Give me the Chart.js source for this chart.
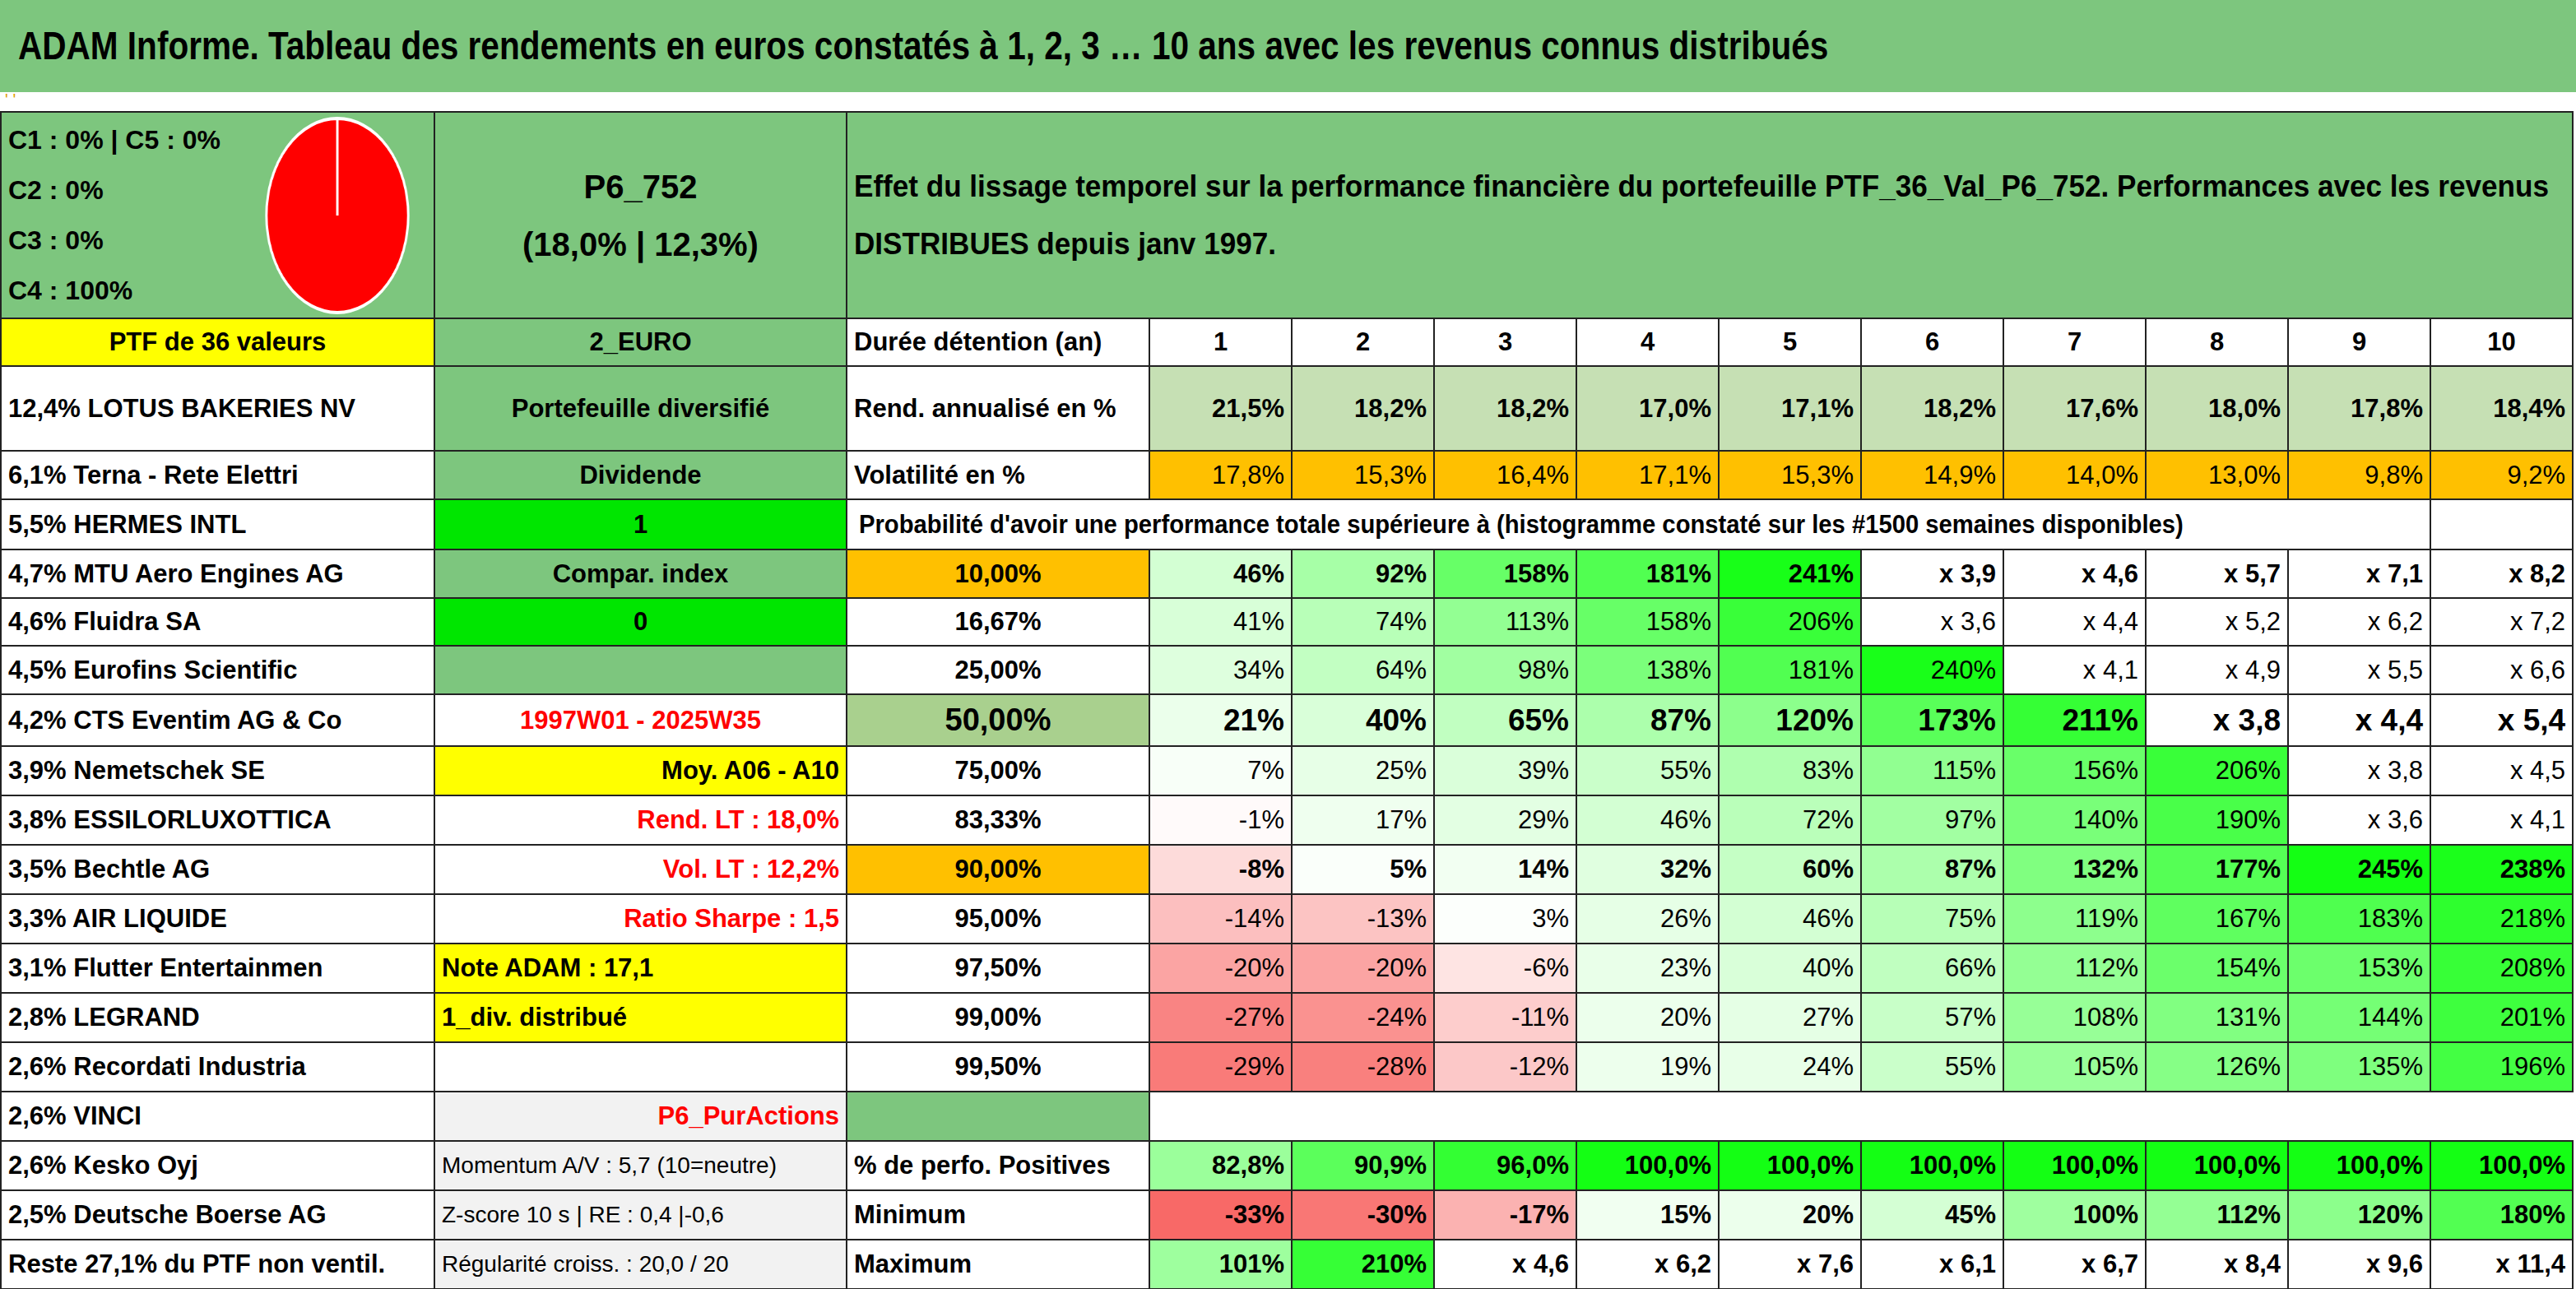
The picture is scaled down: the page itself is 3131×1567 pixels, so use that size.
<!DOCTYPE html>
<html><head><meta charset="utf-8">
<script src="https://cdn.jsdelivr.net/npm/chart.js@4"></script>
<style>
body{margin:0;width:3131px;height:1567px;overflow:hidden;background:#fff;font-family:"Liberation Sans",Arial,sans-serif;}
#title{position:absolute;left:0;top:0;width:3131px;height:112px;background:#7DC67E;font-weight:bold;font-size:48px;line-height:112px;padding-left:22px;box-sizing:border-box;white-space:nowrap;}
.fit{display:inline-block;transform-origin:0 50%;white-space:nowrap;}
#dots{position:absolute;left:6px;top:110px;color:#E0A000;font-size:20px;}
table{position:absolute;left:0;top:135px;border-collapse:collapse;table-layout:fixed;width:3127px;}
td{border:2px solid #222;padding:0 8px;font-size:31px;font-weight:bold;white-space:nowrap;overflow:hidden;}
.n{font-weight:normal}
#pie{position:absolute;left:288px;top:140px;width:244px;height:244px;transform:scaleX(0.73);transform-origin:50% 50%;}
</style></head><body>
<div id="title"><span class="fit" data-w="2200">ADAM Informe. Tableau des rendements en euros constatés à 1, 2, 3 … 10 ans avec les revenus connus distribués</span></div>
<div id="dots">' '</div>
<table id="t"></table>
<div id="pie"><canvas id="c" width="244" height="244"></canvas></div>
<script>
const pieLabels=["C1","C2","C3","C4","C5"];
const pieValues=[0,0,0,100,0];
const years=["1","2","3","4","5","6","7","8","9","10"];
const rendement=["21,5%","18,2%","18,2%","17,0%","17,1%","18,2%","17,6%","18,0%","17,8%","18,4%"];
const volatilite=["17,8%","15,3%","16,4%","17,1%","15,3%","14,9%","14,0%","13,0%","9,8%","9,2%"];
const probLevels=["10,00%","16,67%","25,00%","50,00%","75,00%","83,33%","90,00%","95,00%","97,50%","99,00%","99,50%"];
const probRows=[
["46%","92%","158%","181%","241%","x 3,9","x 4,6","x 5,7","x 7,1","x 8,2"],
["41%","74%","113%","158%","206%","x 3,6","x 4,4","x 5,2","x 6,2","x 7,2"],
["34%","64%","98%","138%","181%","240%","x 4,1","x 4,9","x 5,5","x 6,6"],
["21%","40%","65%","87%","120%","173%","211%","x 3,8","x 4,4","x 5,4"],
["7%","25%","39%","55%","83%","115%","156%","206%","x 3,8","x 4,5"],
["-1%","17%","29%","46%","72%","97%","140%","190%","x 3,6","x 4,1"],
["-8%","5%","14%","32%","60%","87%","132%","177%","245%","238%"],
["-14%","-13%","3%","26%","46%","75%","119%","167%","183%","218%"],
["-20%","-20%","-6%","23%","40%","66%","112%","154%","153%","208%"],
["-27%","-24%","-11%","20%","27%","57%","108%","131%","144%","201%"],
["-29%","-28%","-12%","19%","24%","55%","105%","126%","135%","196%"]];
const positives=["82,8%","90,9%","96,0%","100,0%","100,0%","100,0%","100,0%","100,0%","100,0%","100,0%"];
const minimum=["-33%","-30%","-17%","15%","20%","45%","100%","112%","120%","180%"];
const maximum=["101%","210%","x 4,6","x 6,2","x 7,6","x 6,1","x 6,7","x 8,4","x 9,6","x 11,4"];
const names=["PTF de 36 valeurs","12,4% LOTUS BAKERIES NV","6,1% Terna - Rete Elettri","5,5% HERMES INTL","4,7% MTU Aero Engines AG","4,6% Fluidra SA","4,5% Eurofins Scientific","4,2% CTS Eventim AG & Co","3,9% Nemetschek SE","3,8% ESSILORLUXOTTICA","3,5% Bechtle AG","3,3% AIR LIQUIDE","3,1% Flutter Entertainmen","2,8% LEGRAND","2,6% Recordati Industria","2,6% VINCI","2,6% Kesko Oyj","2,5% Deutsche Boerse AG","Reste 27,1% du PTF non ventil."];
const infoB=["2_EURO","Portefeuille diversifié","Dividende","1","Compar. index","0","","1997W01 - 2025W35","Moy. A06 - A10","Rend. LT : 18,0%","Vol. LT : 12,2%","Ratio Sharpe : 1,5","Note ADAM : 17,1","1_div. distribué","","P6_PurActions","Momentum A/V : 5,7 (10=neutre)","Z-score 10 s | RE : 0,4 |-0,6","Régularité croiss. : 20,0 / 20"];
const styleB=[["#7DC67E","#000","center"],["#7DC67E","#000","center"],["#7DC67E","#000","center"],["#00E600","#000","center"],["#7DC67E","#000","center"],["#00E600","#000","center"],["#7DC67E","#000","center"],["#fff","#f00","center"],["#FFFF00","#000","right"],["#fff","#f00","right"],["#fff","#f00","right"],["#fff","#f00","right"],["#FFFF00","#000","left"],["#FFFF00","#000","left"],["#fff","#000","center"],["#F2F2F2","#f00","right"],["#F2F2F2","#000","left"],["#F2F2F2","#000","left"],["#F2F2F2","#000","left"]];
const heights=[58,103,59,61,59,58,59,63,60,60,60,60,60,60,60,60,60,60,60];

function heat(s){
  if(s.startsWith("x"))return "#fff";
  const v=parseFloat(s.replace(",","."));
  if(v<0){const f=Math.min(1,-v/33);return `rgb(${Math.round(255-7*f)},${Math.round(255-150*f)},${Math.round(255-152*f)})`;}
  const f=Math.min(1,v/245);const o=Math.round(255-235*f);return `rgb(${o},255,${o})`;
}
function heatPos(s){const v=parseFloat(s.replace(",","."));const f=Math.max(0,Math.min(1,(v-70)/30));const o=Math.round(255-235*f);return `rgb(${o},255,${o})`;}
const t=document.getElementById('t');
const cg=document.createElement('colgroup');
[527,501,368,173,173,173,173,173,173,173,173,173,173].forEach(w=>{const c=document.createElement('col');c.style.width=w+'px';cg.appendChild(c);});
t.appendChild(cg);
function td(tr,txt,o={}){const d=document.createElement('td');d.innerHTML=txt;d.style.background=o.bg||'#fff';d.style.color=o.c||'#000';d.style.textAlign=o.a||'left';if(o.span)d.colSpan=o.span;if(o.n)d.className='n';if(o.fs)d.style.fontSize=o.fs+'px';if(o.st)Object.assign(d.style,o.st);tr.appendChild(d);return d;}
let tr=document.createElement('tr');tr.style.height='251px';t.appendChild(tr);
td(tr,pieLabels.slice(0,4).map((l,i)=>i==0?`${l} : ${pieValues[0]}% | C5 : ${pieValues[4]}%`:`${l} : ${pieValues[i]}%`).join('<br>'),{bg:'#7DC67E',st:{lineHeight:'61px',verticalAlign:'middle',fontSize:'32px'}});
td(tr,'P6_752<br>(18,0% | 12,3%)',{bg:'#7DC67E',a:'center',st:{fontSize:'40px',lineHeight:'70px'}});
td(tr,'<span class="fit" data-w="2060">Effet du lissage temporel sur la performance financière du portefeuille PTF_36_Val_P6_752. Performances avec les revenus</span><br><span class="fit" data-w="2060" data-s="1">DISTRIBUES depuis janv 1997.</span>',{bg:'#7DC67E',span:11,st:{fontSize:'36px',lineHeight:'70px'}});
for(let r=0;r<19;r++){
  tr=document.createElement('tr');tr.style.height=heights[r]+'px';t.appendChild(tr);
  td(tr,names[r],{bg:r==0?'#FFFF00':'#fff',a:r==0?'center':'left'});
  const sb=styleB[r];td(tr,infoB[r],{bg:sb[0],c:sb[1],a:sb[2],n:r>=16,fs:r>=16?28:31});
  if(r==0){td(tr,'Durée détention (an)');years.forEach(y=>td(tr,y,{a:'center'}));}
  else if(r==1){td(tr,'Rend. annualisé en %');rendement.forEach(v=>td(tr,v,{a:'right',bg:'#C6E0B4'}));}
  else if(r==2){td(tr,'Volatilité en %');volatilite.forEach(v=>td(tr,v,{a:'right',bg:'#FFC000',n:true}));}
  else if(r==3){td(tr,"<span class='fit' data-w='1610'>Probabilité d'avoir une performance totale supérieure à (histogramme constaté sur les #1500 semaines disponibles)</span>",{span:10,st:{paddingLeft:'14px',fontSize:'31px'}});td(tr,'');}
  else if(r<=14){const k=r-4;const bold=(k==0||k==3||k==6);
    td(tr,probLevels[k],{a:'center',bg:k==0||k==6?'#FFC000':k==3?'#A9D08E':'#fff',fs:k==3?38:31});
    probRows[k].forEach(v=>td(tr,v,{a:'right',bg:heat(v),n:!bold,fs:k==3?37:31}));}
  else if(r==15){td(tr,'',{bg:'#7DC67E'});td(tr,'',{span:10,st:{border:'none'}});}
  else{const lab=['% de perfo. Positives','Minimum','Maximum'][r-16];const arr=[positives,minimum,maximum][r-16];
    td(tr,lab);arr.forEach(v=>td(tr,v,{a:'right',bg:r==16?heatPos(v):heat(v)}));}
}
let firstScale=1;
document.querySelectorAll('.fit').forEach(s=>{let sc=(+s.dataset.w)/s.offsetWidth;if(s.dataset.s)sc=firstScale;else firstScale=sc;s.style.transform=`scaleX(${sc})`;s.style.width=s.offsetWidth+'px';});
new Chart(document.getElementById('c'),{type:'pie',data:{labels:pieLabels,datasets:[{data:pieValues,backgroundColor:['#4472C4','#ED7D31','#A5A5A5','#FF0000','#FFC000'],borderColor:'#fff',borderWidth:4}]},
options:{responsive:false,animation:false,plugins:{legend:{display:false},tooltip:{enabled:false}},layout:{padding:2}}});
</script>
</body></html>
